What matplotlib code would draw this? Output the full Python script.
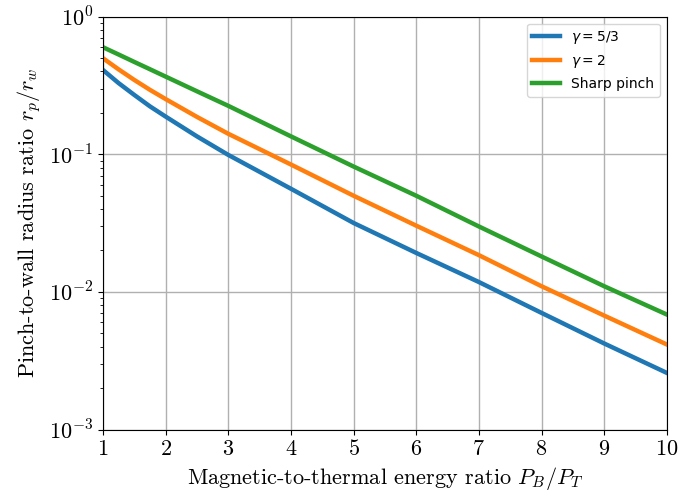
import matplotlib
matplotlib.use("Agg")
import matplotlib.pyplot as plt
from matplotlib.font_manager import FontProperties

plt.rcParams['mathtext.fontset'] = 'cm'
plt.rcParams['axes.unicode_minus'] = False

x = [1, 1.25, 1.5, 1.75, 2, 2.5, 3, 4, 5, 6, 7, 8, 9, 10]
gamma53 = [0.410, 0.329, 0.270, 0.223, 0.188, 0.135, 0.099, 0.0562, 0.0317, 0.0192, 0.0118, 0.00704, 0.00422, 0.00258]
gamma2 = [0.499, 0.414, 0.347, 0.294, 0.252, 0.187, 0.141, 0.0843, 0.0500, 0.0303, 0.0185, 0.0110, 0.00673, 0.00415]
sharp = [0.600, 0.531, 0.469, 0.415, 0.367, 0.287, 0.225, 0.135, 0.0815, 0.0500, 0.0299, 0.0181, 0.0110, 0.00685]

labels = [r'$\gamma = 5/3$', r'$\gamma = 2$', 'Sharp pinch']
xticks = [1, 2, 3, 4, 5, 6, 7, 8, 9, 10]
yticks = [1e-3, 1e-2, 1e-1, 1e0]
ytick_labels = [r'$10^{-3}$', r'$10^{-2}$', r'$10^{-1}$', r'$10^{0}$']

fig = plt.figure(figsize=(6.91, 4.98), dpi=100)
ax = fig.add_axes([0.149, 0.1375, 0.816, 0.829])

ax.plot(x, gamma53, color='#1f77b4', lw=3.2, label=labels[0])
ax.plot(x, gamma2, color='#ff7f0e', lw=3.2, label=labels[1])
ax.plot(x, sharp, color='#2ca02c', lw=3.2, label=labels[2])

ax.set_yscale('log')
ax.set_xlim(1, 10)
ax.set_ylim(1e-3, 1)
ax.set_xticks(xticks)
ax.set_xticklabels([r'$%d$' % v for v in xticks])
ax.set_yticks(yticks)
ax.set_yticklabels(ytick_labels)
ax.tick_params(axis='both', which='major', labelsize=16)
ax.grid(True, which='major', color='#b0b0b0', lw=1)

ax.set_xlabel(r'Magnetic-to-thermal energy ratio $P_B/P_T$', fontfamily='cmr10', fontsize=16)
ax.set_ylabel(r'Pinch-to-wall radius ratio $r_p/r_w$', fontfamily='cmr10', fontsize=16)

prop = FontProperties(family='DejaVu Sans', size=10, math_fontfamily='dejavusans')
ax.legend(loc='upper right', prop=prop)

fig.savefig('out.png', dpi=100)
